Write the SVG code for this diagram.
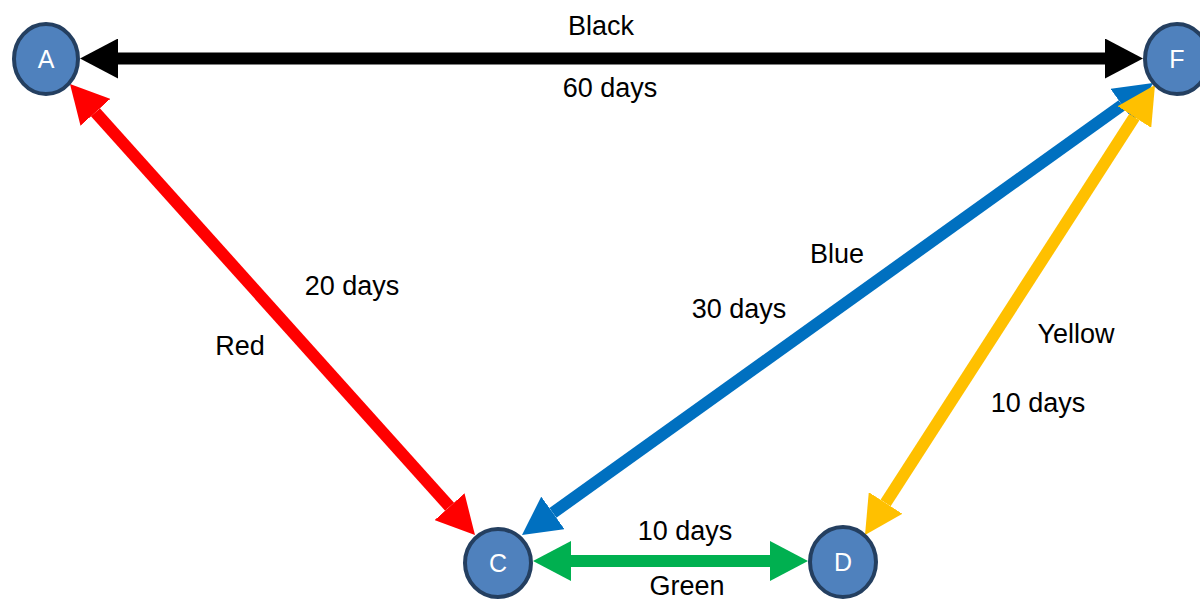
<svg xmlns="http://www.w3.org/2000/svg" width="1200" height="601" viewBox="0 0 1200 601">
<style>
.lbl{font-family:"Liberation Sans",Arial,sans-serif;font-size:27px;fill:#000;text-anchor:middle}
.node circle,.node ellipse{fill:#4F81BD;stroke:#243F60;stroke-width:4}
.node text{font-family:"Liberation Sans",Arial,sans-serif;font-size:25px;fill:#fff;text-anchor:middle}
.edge{fill:none;stroke-width:12}
</style>
<defs>
<marker id="hK" viewBox="0 0 38 40" refX="0" refY="20" markerWidth="38" markerHeight="40" markerUnits="userSpaceOnUse" orient="auto-start-reverse"><path d="M0,0 L38,20 L0,40 z" fill="#000"/></marker>
<marker id="hR" viewBox="0 0 38 40" refX="0" refY="20" markerWidth="38" markerHeight="40" markerUnits="userSpaceOnUse" orient="auto-start-reverse"><path d="M0,0 L38,20 L0,40 z" fill="#FF0000"/></marker>
<marker id="hB" viewBox="0 0 38 40" refX="0" refY="20" markerWidth="38" markerHeight="40" markerUnits="userSpaceOnUse" orient="auto-start-reverse"><path d="M0,0 L38,20 L0,40 z" fill="#0070C0"/></marker>
<marker id="hY" viewBox="0 0 38 40" refX="0" refY="20" markerWidth="38" markerHeight="40" markerUnits="userSpaceOnUse" orient="auto-start-reverse"><path d="M0,0 L38,20 L0,40 z" fill="#FFC000"/></marker>
<marker id="hG" viewBox="0 0 38 40" refX="0" refY="20" markerWidth="38" markerHeight="40" markerUnits="userSpaceOnUse" orient="auto-start-reverse"><path d="M0,0 L38,20 L0,40 z" fill="#00B050"/></marker>
</defs>
<g id="connectors">
<line class="edge" x1="118" y1="58.5" x2="1105" y2="58.5" stroke="#000" marker-start="url(#hK)" marker-end="url(#hK)"/>
<line class="edge" x1="95.4" y1="112.3" x2="449.6" y2="506.7" stroke="#FF0000" marker-start="url(#hR)" marker-end="url(#hR)"/>
<line class="edge" x1="1122.1" y1="105.1" x2="552.9" y2="512.9" stroke="#0070C0" marker-start="url(#hB)" marker-end="url(#hB)"/>
<line class="edge" x1="1134.4" y1="117" x2="885.6" y2="503" stroke="#FFC000" marker-start="url(#hY)" marker-end="url(#hY)"/>
<line class="edge" x1="571" y1="561" x2="770" y2="561" stroke="#00B050" marker-start="url(#hG)" marker-end="url(#hG)"/>
</g>
<g id="labels">
<text class="lbl" x="601" y="35">Black</text>
<text class="lbl" x="610" y="97">60 days</text>
<text class="lbl" x="352" y="295">20 days</text>
<text class="lbl" x="240" y="355">Red</text>
<text class="lbl" x="837" y="263">Blue</text>
<text class="lbl" x="739" y="318">30 days</text>
<text class="lbl" x="1076" y="343">Yellow</text>
<text class="lbl" x="1038" y="412">10 days</text>
<text class="lbl" x="685" y="540">10 days</text>
<text class="lbl" x="687" y="595">Green</text>
</g>
<g id="node-A" class="node"><ellipse cx="46" cy="59" rx="32" ry="35"/><text x="46" y="68">A</text></g>
<g id="node-F" class="node"><ellipse cx="1177" cy="59" rx="32" ry="35"/><text x="1177" y="68">F</text></g>
<g id="node-C" class="node"><ellipse cx="498" cy="563" rx="33" ry="34"/><text x="498" y="572">C</text></g>
<g id="node-D" class="node"><ellipse cx="843" cy="562" rx="33" ry="35"/><text x="843" y="571">D</text></g>
</svg>
